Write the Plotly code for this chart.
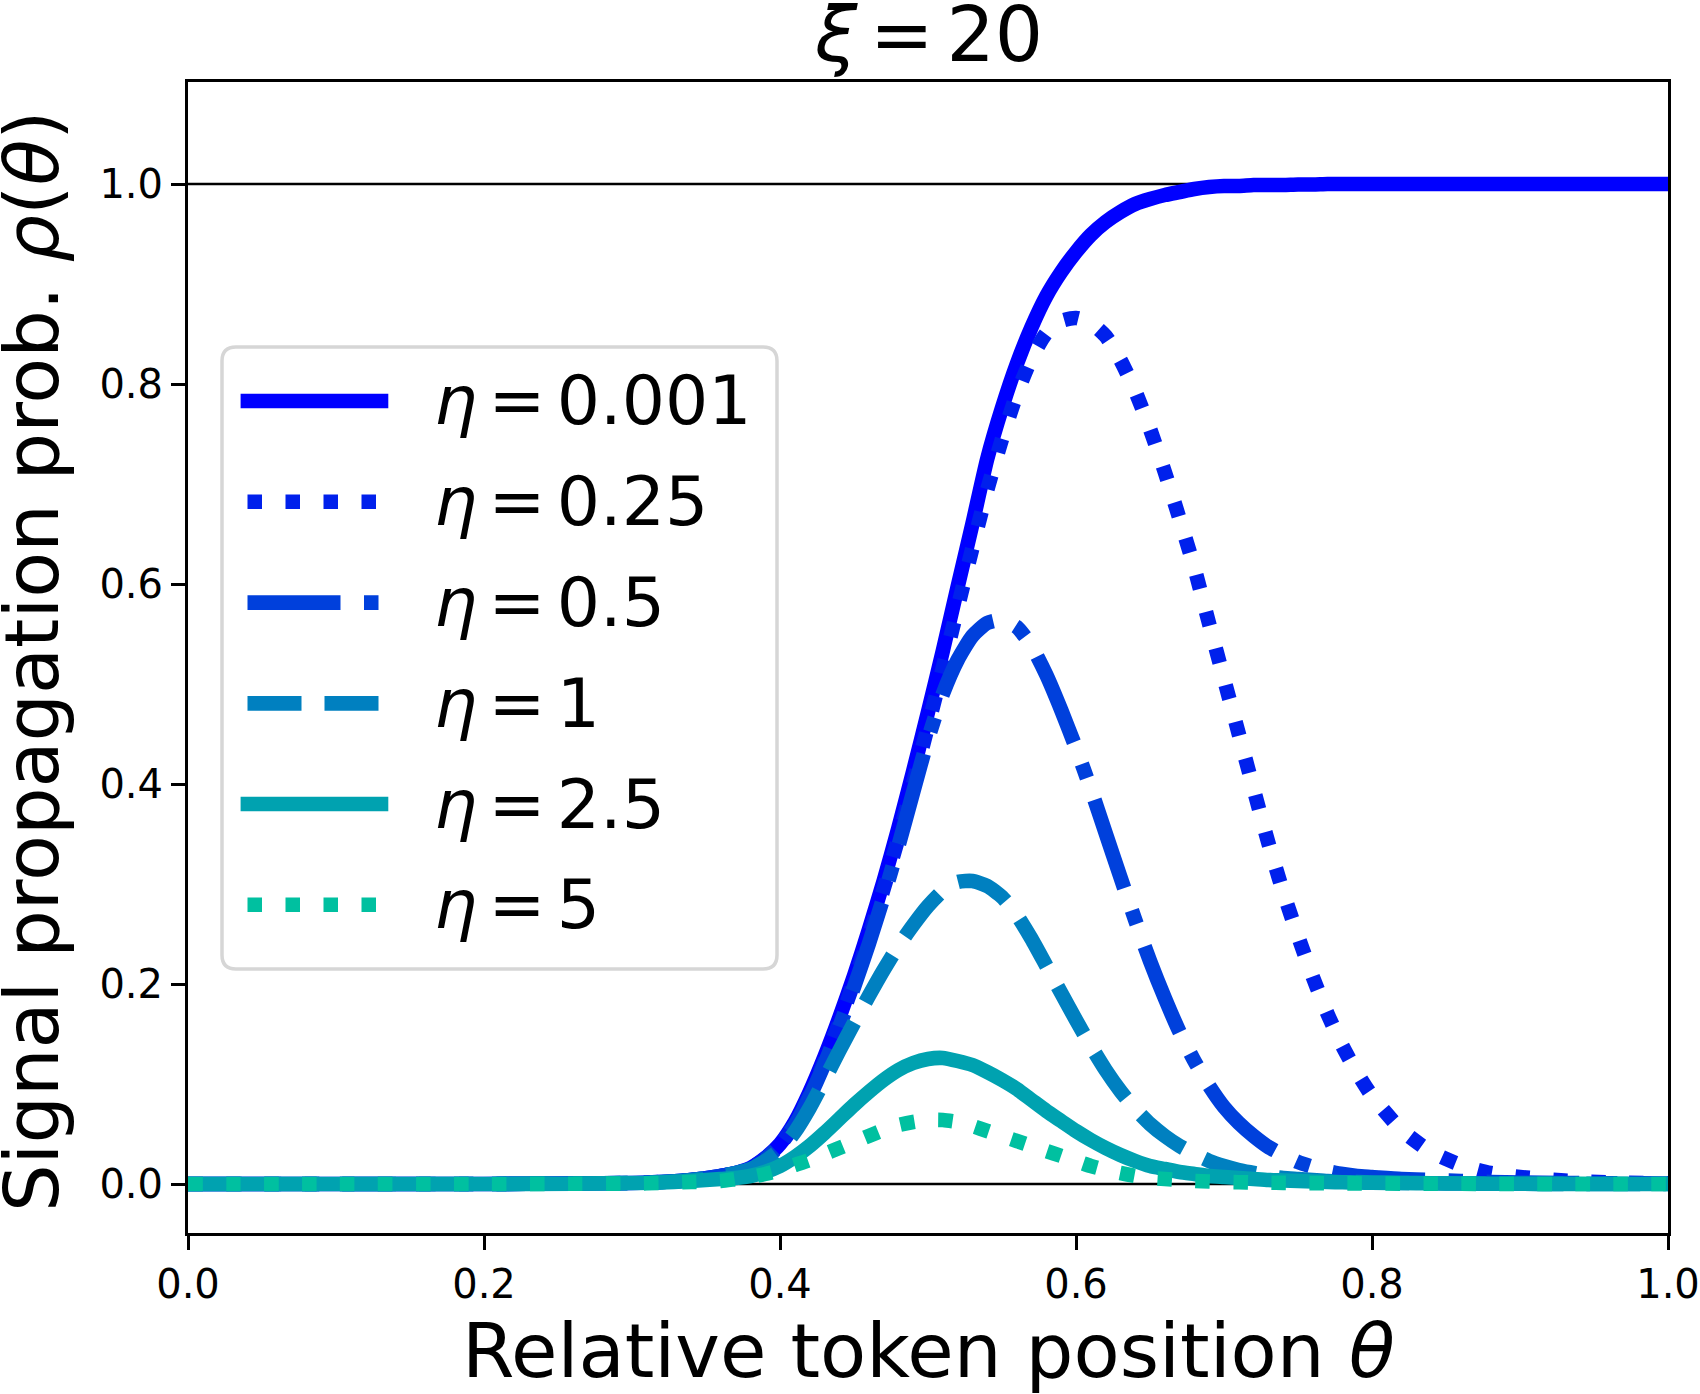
import plotly.graph_objects as go

# ---------------- data ----------------
THETA = [0.00, 0.10, 0.20, 0.26, 0.30, 0.32, 0.34, 0.36,
         0.37, 0.38, 0.39, 0.40, 0.41, 0.42, 0.43, 0.44, 0.45, 0.46, 0.47, 0.48, 0.49,
         0.50, 0.51, 0.52, 0.53, 0.54, 0.55, 0.56, 0.57, 0.58, 0.59,
         0.60, 0.61, 0.62, 0.63, 0.64, 0.65, 0.66, 0.67, 0.68, 0.69,
         0.70, 0.71, 0.72, 0.73, 0.74, 0.75, 0.76, 0.77, 0.78, 0.79, 0.80,
         0.82, 0.84, 0.86, 0.88, 0.90, 0.93, 0.96, 1.00]

RHO_ETA_0001 = [0, 0, 0, 0.0005, 0.001, 0.002, 0.004, 0.008,
                0.011, 0.016, 0.026, 0.040, 0.062, 0.092, 0.127, 0.166, 0.208, 0.254, 0.303, 0.356, 0.413,
                0.472, 0.533, 0.597, 0.660, 0.725, 0.776, 0.820, 0.857, 0.888, 0.912,
                0.932, 0.949, 0.962, 0.972, 0.980, 0.985, 0.989, 0.992, 0.995, 0.997,
                0.998, 0.998, 0.999, 0.999, 0.999, 0.9995, 0.9995, 1.0, 1.0, 1.0, 1.0,
                1.0, 1.0, 1.0, 1.0, 1.0, 1.0, 1.0, 1.0]

RHO_ETA_025 = [0, 0, 0, 0.0005, 0.001, 0.002, 0.004, 0.008,
               0.011, 0.016, 0.025, 0.039, 0.060, 0.089, 0.123, 0.161, 0.202, 0.247, 0.295, 0.346, 0.401,
               0.458, 0.516, 0.576, 0.636, 0.694, 0.745, 0.790, 0.826, 0.851, 0.863,
               0.866, 0.861, 0.848, 0.824, 0.793, 0.755, 0.712, 0.665, 0.616, 0.560,
               0.505, 0.450, 0.395, 0.341, 0.292, 0.248, 0.207, 0.170, 0.138, 0.111, 0.088,
               0.054, 0.032, 0.019, 0.011, 0.007, 0.0035, 0.0015, 0.0005]

RHO_ETA_05 = [0, 0, 0, 0.0005, 0.001, 0.002, 0.004, 0.008,
              0.011, 0.016, 0.025, 0.039, 0.059, 0.087, 0.120, 0.157, 0.197, 0.240, 0.287, 0.338, 0.392,
              0.445, 0.490, 0.524, 0.548, 0.561, 0.564, 0.557, 0.538, 0.509, 0.474,
              0.436, 0.395, 0.351, 0.307, 0.264, 0.223, 0.186, 0.152, 0.123, 0.098,
              0.077, 0.061, 0.048, 0.037, 0.029, 0.022, 0.017, 0.013, 0.010, 0.008, 0.007,
              0.005, 0.004, 0.003, 0.002, 0.0015, 0.001, 0.0007, 0.0005]

RHO_ETA_1 = [0, 0, 0, 0.0005, 0.001, 0.002, 0.004, 0.008,
             0.011, 0.015, 0.023, 0.034, 0.052, 0.076, 0.104, 0.133, 0.161, 0.188, 0.214, 0.238, 0.259,
             0.278, 0.293, 0.302, 0.303, 0.298, 0.287, 0.269, 0.245, 0.218, 0.191,
             0.164, 0.138, 0.114, 0.093, 0.075, 0.060, 0.048, 0.038, 0.030, 0.023,
             0.018, 0.014, 0.011, 0.008, 0.006, 0.005, 0.004, 0.003, 0.0025, 0.002, 0.0015,
             0.001, 0.0008, 0.0005, 0.0003, 0.0002, 0.0001, 0.0001, 0]

RHO_ETA_25 = [0, 0, 0, 0.0003, 0.001, 0.0015, 0.003, 0.005,
              0.006, 0.008, 0.012, 0.018, 0.027, 0.038, 0.051, 0.065, 0.079, 0.092, 0.104, 0.114, 0.121,
              0.125, 0.126, 0.123, 0.119, 0.112, 0.104, 0.095, 0.084, 0.073, 0.063,
              0.053, 0.044, 0.036, 0.029, 0.023, 0.018, 0.015, 0.012, 0.010, 0.008,
              0.007, 0.006, 0.005, 0.004, 0.0035, 0.003, 0.0025, 0.002, 0.0018, 0.0015, 0.0013,
              0.001, 0.0007, 0.0005, 0.0003, 0.0002, 0.0001, 0, 0]

RHO_ETA_5 = [0, 0, 0, 0.0002, 0.0005, 0.001, 0.002, 0.003,
             0.005, 0.007, 0.010, 0.014, 0.019, 0.024, 0.030, 0.036, 0.042, 0.048, 0.054, 0.059, 0.062,
             0.064, 0.064, 0.062, 0.058, 0.053, 0.048, 0.043, 0.038, 0.033, 0.028,
             0.023, 0.018, 0.014, 0.011, 0.008, 0.006, 0.005, 0.004, 0.003, 0.0025,
             0.002, 0.0018, 0.0015, 0.0013, 0.0011, 0.001, 0.0009, 0.0008, 0.0007, 0.0006, 0.0005,
             0.0004, 0.0003, 0.0002, 0.0001, 0.0001, 0, 0, 0]

ETA_LABELS = ["0.001", "0.25", "0.5", "1", "2.5", "5"]
SERIES = [RHO_ETA_0001, RHO_ETA_025, RHO_ETA_05, RHO_ETA_1, RHO_ETA_25, RHO_ETA_5]
COLORS = ["#0000FF", "#0020EC", "#0040DC", "#0080C0", "#00A2B0", "#00C0A0"]
DASHES = ["solid", "14.5px,23.5px", "93px,23.5px,14.5px,23.5px", "54px,23px",
          "solid", "14.5px,23.5px"]

X_TICKS = [0.0, 0.2, 0.4, 0.6, 0.8, 1.0]
Y_TICKS = [0.0, 0.2, 0.4, 0.6, 0.8, 1.0]
TICK_TEXT = ["0.0", "0.2", "0.4", "0.6", "0.8", "1.0"]

SP = "\u2006"  # narrow space, like mathtext spacing around "="
TITLE = f"<i>ξ</i>{SP}={SP}20"
X_TITLE = "Relative token position <i>θ</i>"
Y_TITLE = "Signal propagation prob. <i>ρ</i>(<i>θ</i>)"

# ---------------- layout geometry ----------------
W, H = 1700, 1394
ML, MR, MT, MB = 188, 32, 82, 161
PW, PH = W - ML - MR, H - MT - MB
LW = 14.6
FONT = "DejaVu Sans"


def px_x(px):
    return (px - ML) / PW


def px_y(py):
    return (MT + PH - py) / PH


fig = go.Figure()
for vals, lab, col, dash in zip(SERIES, ETA_LABELS, COLORS, DASHES):
    fig.add_trace(go.Scatter(
        x=THETA, y=vals, mode="lines", name="η = " + lab,
        line=dict(color=col, width=LW, dash=dash, shape="spline", smoothing=0.6),
        showlegend=False, hoverinfo="skip"))

shapes = []
# reference lines at 0 and 1
for yv in (0.0, 1.0):
    shapes.append(dict(type="line", xref="paper", yref="y", x0=0, x1=1, y0=yv, y1=yv,
                       line=dict(color="black", width=2.5), layer="below"))

# legend box (rounded)
lx0, lx1, ly0, ly1 = px_x(222), px_x(777), px_y(969), px_y(347)
rx, ry = 14 / PW, 14 / PH
path = (f"M {lx0+rx},{ly1} L {lx1-rx},{ly1} Q {lx1},{ly1} {lx1},{ly1-ry} "
        f"L {lx1},{ly0+ry} Q {lx1},{ly0} {lx1-rx},{ly0} L {lx0+rx},{ly0} "
        f"Q {lx0},{ly0} {lx0},{ly0+ry} L {lx0},{ly1-ry} Q {lx0},{ly1} {lx0+rx},{ly1} Z")
shapes.append(dict(type="path", xref="paper", yref="paper", path=path,
                   fillcolor="rgba(255,255,255,0.85)", line=dict(color="#d6d6d6", width=3.5),
                   layer="above"))

annotations = []
row_y = [401, 501.8, 602.6, 703.4, 804, 904.7]
for i, (lab, col, dash) in enumerate(zip(ETA_LABELS, COLORS, DASHES)):
    yy = px_y(row_y[i])
    xs = 240.6 if dash == "solid" else 247.5
    shapes.append(dict(type="line", xref="paper", yref="paper",
                       x0=px_x(xs), x1=px_x(388.3), y0=yy, y1=yy,
                       line=dict(color=col, width=LW, dash=dash), layer="above"))
    annotations.append(dict(xref="paper", yref="paper", x=px_x(432), y=yy,
                            xanchor="left", yanchor="middle", showarrow=False,
                            text=f"<i>η</i>{SP}={SP}" + lab,
                            font=dict(family=FONT, size=68, color="black")))

annotations.append(dict(xref="paper", yref="paper", x=0.5, y=px_y(35),
                        xanchor="center", yanchor="middle", showarrow=False,
                        text=TITLE, font=dict(family=FONT, size=76, color="black")))
annotations.append(dict(xref="paper", yref="paper", x=0.5, y=px_y(1351),
                        xanchor="center", yanchor="middle", showarrow=False,
                        text=X_TITLE, font=dict(family=FONT, size=75.5, color="black")))
annotations.append(dict(xref="paper", yref="paper", x=px_x(32), y=px_y(661),
                        xanchor="center", yanchor="middle", showarrow=False, textangle=-90,
                        text=Y_TITLE, font=dict(family=FONT, size=75, color="black")))

axis_common = dict(showline=True, linecolor="black", linewidth=3, mirror=True,
                   ticks="outside", ticklen=14, tickwidth=3, tickcolor="black",
                   showgrid=False, zeroline=False,
                   tickfont=dict(family=FONT, size=40, color="black"))

fig.update_layout(
    width=W, height=H,
    margin=dict(l=ML, r=MR, t=MT, b=MB, autoexpand=False),
    paper_bgcolor="white", plot_bgcolor="white",
    showlegend=False,
    shapes=shapes, annotations=annotations,
    xaxis=dict(range=[0, 1], tickvals=X_TICKS, ticktext=TICK_TEXT, **axis_common),
    yaxis=dict(range=[-0.049, 1.102], tickvals=Y_TICKS, ticktext=TICK_TEXT, **axis_common),
)

fig.write_html("out.html")
